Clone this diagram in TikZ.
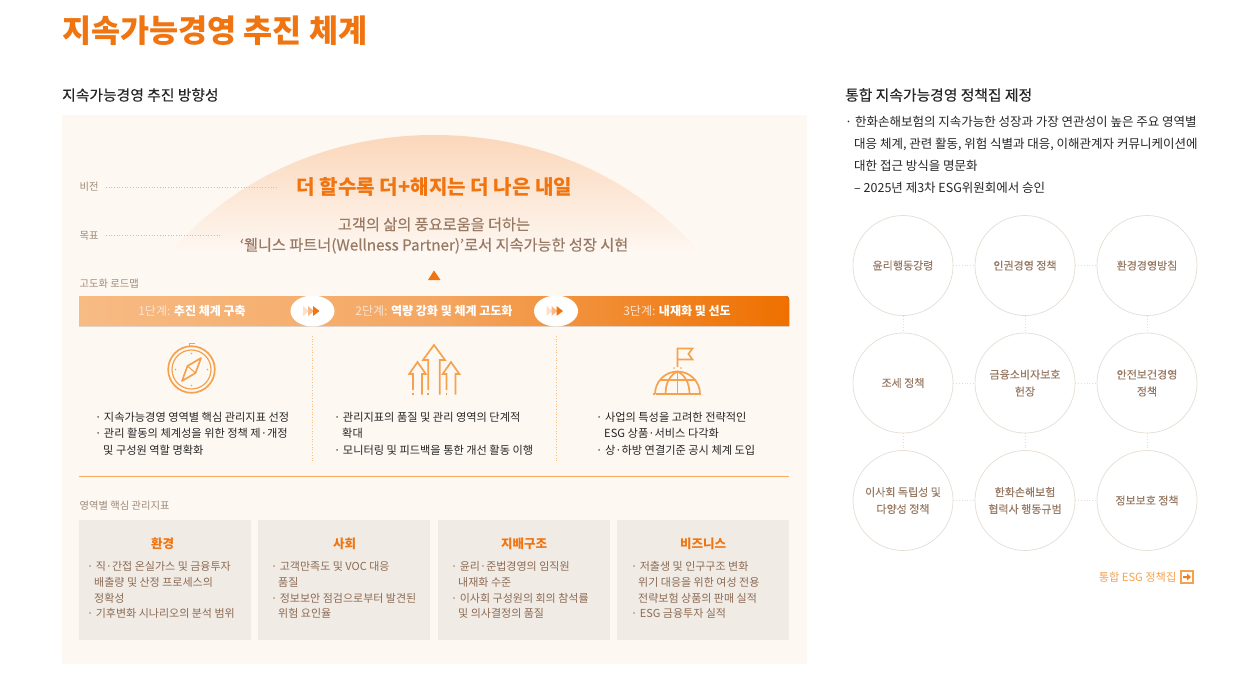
\documentclass[tikz,border=0pt]{standalone}
\usepackage{fontspec}
\setmainfont{Noto Sans CJK KR}
\newfontfamily\med{Noto Sans CJK KR}[FakeBold=0.3]
\usetikzlibrary{calc}
\definecolor{org}{HTML}{F07410}
\definecolor{iconc}{HTML}{F5A24F}
\definecolor{panel}{HTML}{FEF8F3}
\definecolor{brn}{HTML}{8C6B54}
\definecolor{brnm}{HTML}{987A64}
\definecolor{brnl}{HTML}{A08A78}
\definecolor{card}{HTML}{F1EBE5}
\definecolor{ring}{HTML}{E6DDD4}
\definecolor{dotc}{HTML}{CDBFB2}
\definecolor{barl}{HTML}{F7BB84}
\definecolor{barm}{HTML}{F4A762}
\definecolor{barr}{HTML}{EE7000}
\tikzset{
 x=1pt,y=-1pt,
 lab/.style={font=\fontsize{10.3}{12}\selectfont,text=brnl,inner sep=0pt,anchor=west},
 blk/.style={font=\fontsize{11.2}{16.4}\selectfont,text=black!85,inner sep=0pt,anchor=north west,align=left},
 crd/.style={font=\fontsize{11}{15.7}\selectfont,text=brn,inner sep=0pt,anchor=north west,align=left},
 cardbox/.style={fill=card,inner sep=0pt,anchor=north west,minimum width=172pt,minimum height=120pt},
 cardt/.style={font=\fontsize{12.5}{14}\selectfont\bfseries,text=org,inner sep=0pt},
 circ/.style={circle,draw=ring,line width=.7pt,fill=white,minimum size=100pt,inner sep=0pt,align=center,font=\fontsize{11}{17}\selectfont\med,text=brnm},
 cline/.style={draw=ring,line width=.8pt,dotted},
 stg/.style={font=\fontsize{12}{14}\selectfont,text=white,inner sep=0pt},
 ico/.style={draw=iconc,line width=1.7pt,line join=miter},
 headf/.style={inner sep=0pt,anchor=west,font=\fontsize{14.8}{16}\selectfont\med,text=black!85},
}
\begin{document}
\begin{tikzpicture}
\useasboundingbox (0,0) rectangle (1260,678);
\fill[white] (0,0) rectangle (1260,678);
\node[inner sep=0pt,anchor=west,font=\fontsize{31.6}{36}\selectfont\bfseries,text=org] (title) at (62,31) {지속가능경영 추진 체계};
\node[headf] (h1) at (62,95) {지속가능경영 추진 방향성};
\node[headf] (h2) at (845,95) {통합 지속가능경영 정책집 제정};
\fill[panel] (62,115) rectangle (807,664);
% dome
\shade[top color=org!25!panel,bottom color=panel] (168,255) .. controls (240,170) and (340,135) .. (434,135) .. controls (530,135) and (630,170) .. (702,255) -- cycle;
\node[lab] (v) at (79.5,187) {비전};
\node[lab] (g) at (79.5,235.5) {목표};
\coordinate (ve) at (278,187);
\coordinate (ge) at (221,235.5);
\draw[dotc,line width=.7pt,dotted] (v.east)++(7,0) -- (ve);
\draw[dotc,line width=.7pt,dotted] (g.east)++(7,0) -- (ge);
\node[inner sep=0pt,font=\fontsize{20.1}{22}\selectfont\bfseries,text=org] (vis) at (434.5,187) {더 할수록 더+해지는 더 나은 내일};
\node[inner sep=0pt,align=center,font=\fontsize{15.2}{20.5}\selectfont\med,text=brnm] (goal) at (434,235.5) {고객의 삶의 풍요로움을 더하는\\‘웰니스 파트너(Wellness Partner)’로서 지속가능한 성장 시현};
\fill[org] (428,280) -- (434,270.5) -- (440.5,280) -- cycle;
\node[lab] (rm) at (79.5,283.5) {고도화 로드맵};
% bar
\fill[left color=barl,right color=barr,middle color=barm,rounded corners=3pt] (79,326) [sharp corners] -- (79,296) [rounded corners=3pt] -- (789,296) [sharp corners] -- (789,326) -- cycle;
\node[stg] (s1) at (192,311) {\textcolor{white!80!org}{1단계:} \textbf{추진 체계 구축}};
\node[stg] (s2) at (434,311) {\textcolor{white!80!org}{2단계:} \textbf{역량 강화 및 체계 고도화}};
\node[stg] (s3) at (677,311) {\textcolor{white!80!org}{3단계:} \textbf{내재화 및 선도}};
\foreach \cx/\n in {312.5/a,556/b}{
 \fill[white] (\cx,311) ellipse[x radius=22pt,y radius=15.5pt];
 \fill[org!22!white] (\cx-9.5,306) -- (\cx-3.5,311) -- (\cx-9.5,316) -- cycle;
 \fill[org!50!white] (\cx-4.5,306) -- (\cx+1.5,311) -- (\cx-4.5,316) -- cycle;
 \fill[org] (\cx+.5,306) -- (\cx+7,311) -- (\cx+.5,316) -- cycle;
}
\draw[iconc!70,line width=.7pt,dotted] (312.5,336) -- (312.5,462);
\draw[iconc!70,line width=.7pt,dotted] (556,336) -- (556,462);
% compass
\draw[ico] (191.5,369.5) circle[radius=23.3pt];
\draw[ico,line width=1.2pt] (191.5,369.5) circle[radius=19.5pt];
\draw[ico,line width=1.2pt] (189.5,345.5) -- (189.5,343.5) -- (194.5,343.5);
\draw[ico,line join=round] (201,358) -- (195.5,373) -- (182,381) -- (187.5,366) -- cycle;
\draw[ico,line width=1.1pt] (187.5,366) -- (195.5,373);
\foreach \ax/\ay in {16/0,-16/0,0/16,0/-16}{\fill[iconc] (191.5+\ax,369.5+\ay) circle[radius=.9pt];}
% arrows
\foreach \cx/\ty/\hb/\hw/\sw in {417.5/362/374/8.3/4.5,434/345/360/11/5.8,451/362/374/8.3/4.5}{
 \draw[ico] (\cx-\sw,390) -- (\cx-\sw,\hb) -- (\cx-\hw,\hb) -- (\cx,\ty) -- (\cx+\hw,\hb) -- (\cx+\sw,\hb) -- (\cx+\sw,394.5);
 \fill[iconc] (\cx-\sw-.85,392.5) rectangle (\cx-\sw+.85,394.5);
}
% globe
\draw[ico] (656,394) -- (701,394);
\fill[iconc] (653,393) rectangle (654.5,394.8);
\draw[ico] (655,394) arc[start angle=180,end angle=0,radius=22.5pt];
\draw[ico] (665.5,394) .. controls (665.5,383) and (670,375) .. (677.5,371.5) .. controls (685,375) and (689.5,383) .. (689.5,394);
\draw[ico] (677.5,371.5) -- (677.5,394);
\draw[ico] (659.5,380) -- (695.5,380);
\draw[ico] (677.5,367) -- (677.5,348.5) -- (692.5,348.5) -- (688.5,354) -- (692.5,359.5) -- (677.5,359.5);
\foreach \dx in {-3.5,3.5}{\fill[iconc] (677.5+\dx,368) circle[radius=.8pt];}
% bullets
\node[blk] (b1) at (95,412) {· 지속가능경영 영역별 핵심 관리지표 선정\\· 관리 활동의 체계성을 위한 정책 제·개정\\\hspace*{8pt}및 구성원 역할 명확화};
\node[blk] (b2) at (334,412) {· 관리지표의 품질 및 관리 영역의 단계적\\\hspace*{8pt}확대\\· 모니터링 및 피드백을 통한 개선 활동 이행};
\node[blk] (b3) at (596,412) {· 사업의 특성을 고려한 전략적인\\\hspace*{8pt}ESG 상품·서비스 다각화\\· 상·하방 연결기준 공시 체계 도입};
\draw[iconc!90!white,line width=.8pt] (79,476.5) -- (789,476.5);
\node[lab] (kp) at (79.5,505.5) {영역별 핵심 관리지표};
% cards
\node[cardbox] (c1) at (79,520) {};
\node[cardbox] (c2) at (258,520) {};
\node[cardbox] (c3) at (438,520) {};
\node[cardbox] (c4) at (617,520) {};
\node[cardt] (t1) at (162.5,543.5) {환경};
\node[cardt] (t2) at (344.5,543.5) {사회};
\node[cardt] (t3) at (524,543.5) {지배구조};
\node[cardt] (t4) at (703,543.5) {비즈니스};
\node[crd] (x1) at (87,561.5) {· 직·간접 온실가스 및 금융투자\\\hspace*{7pt}배출량 및 산정 프로세스의\\\hspace*{7pt}정확성\\· 기후변화 시나리오의 분석 범위};
\node[crd] (x2) at (271,561.5) {· 고객만족도 및 VOC 대응\\\hspace*{7pt}품질\\· 정보보안 점검으로부터 발견된\\\hspace*{7pt}위험 요인율};
\node[crd] (x3) at (451,561.5) {· 윤리·준법경영의 임직원\\\hspace*{7pt}내재화 수준\\· 이사회 구성원의 회의 참석률\\\hspace*{7pt}및 의사결정의 품질};
\node[crd] (x4) at (631,561.5) {· 저출생 및 인구구조 변화\\\hspace*{7pt}위기 대응을 위한 여성 전용\\\hspace*{7pt}전략보험 상품의 판매 실적\\· ESG 금융투자 실적};
% right text
\node[inner sep=0pt,anchor=north west,align=left,font=\fontsize{12.5}{22}\selectfont,text=black!85] (rt) at (845,115.5) {· 한화손해보험의 지속가능한 성장과 가장 연관성이 높은 주요 영역별\\\hspace*{9pt}대응 체계, 관련 활동, 위험 식별과 대응, 이해관계자 커뮤니케이션에\\\hspace*{9pt}대한 접근 방식을 명문화\\\hspace*{9pt}– 2025년 제3차 ESG위원회에서 승인};
% circles
\node[circ] (n11) at (903,265.5) {윤리행동강령};
\node[circ] (n12) at (1025,265.5) {인권경영 정책};
\node[circ] (n13) at (1147,265.5) {환경경영방침};
\node[circ] (n21) at (903,383) {조세 정책};
\node[circ] (n22) at (1025,383) {금융소비자보호\\헌장};
\node[circ] (n23) at (1147,383) {안전보건경영\\정책};
\node[circ] (n31) at (903,500.5) {이사회 독립성 및\\다양성 정책};
\node[circ] (n32) at (1025,500.5) {한화손해보험\\협력사 행동규범};
\node[circ] (n33) at (1147,500.5) {정보보호 정책};
\foreach \a/\b in {n11/n12,n12/n13,n21/n22,n22/n23,n31/n32,n32/n33}{\draw[cline] (\a.east) -- (\b.west);}
\foreach \a/\b in {n11/n21,n12/n22,n13/n23,n21/n31,n22/n32,n23/n33}{\draw[cline] (\a.south) -- (\b.north);}
\node[inner sep=0pt,anchor=east,font=\fontsize{11.2}{13}\selectfont,text=iconc] (lnk) at (1176.5,577) {통합 ESG 정책집};
\draw[iconc,line width=1.1pt] (1181,571) rectangle (1193,583);
\fill[org!80!iconc] (1183,576) rectangle (1187,578) (1187,573.5) -- (1191,577) -- (1187,580.5) -- cycle;
\end{tikzpicture}
\end{document}
